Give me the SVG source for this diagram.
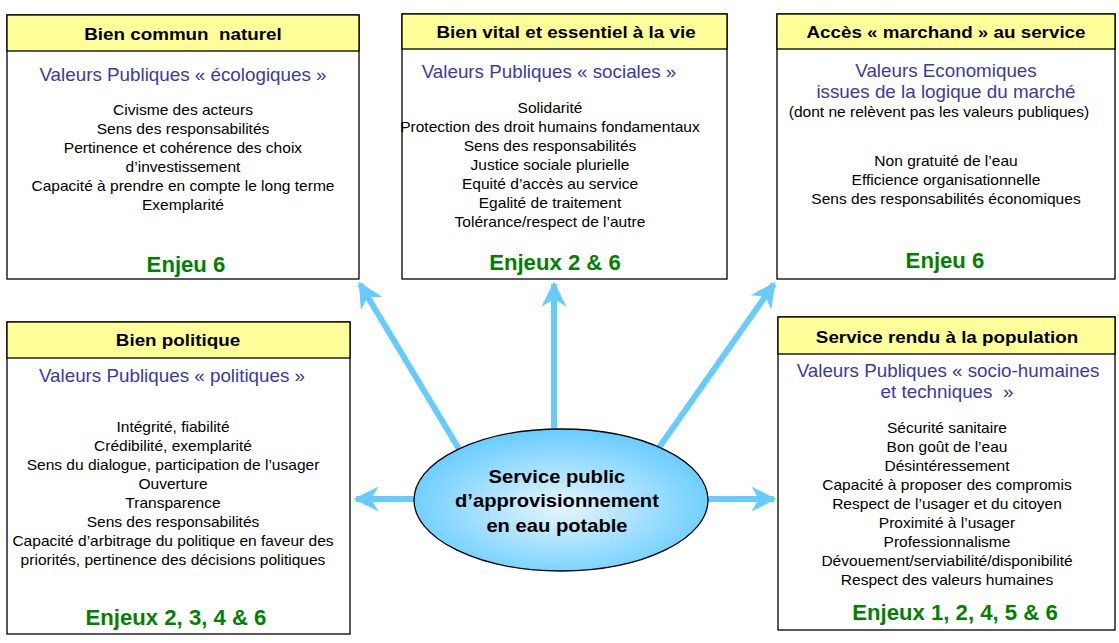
<svg xmlns="http://www.w3.org/2000/svg" width="1119" height="643" viewBox="0 0 1119 643">
<defs>
<radialGradient id="eg" cx="50%" cy="55%" r="55%">
<stop offset="0" stop-color="#E6F6FF"/>
<stop offset="1" stop-color="#66CCFF"/>
</radialGradient>
<marker id="ah" viewBox="0 0 10 10" refX="9" refY="5" markerWidth="4.2" markerHeight="4.2" orient="auto" markerUnits="strokeWidth">
<path d="M0,0 L10,5 L0,10 L3,5 Z" fill="#66CCFF"/>
</marker>
<style>
.box{fill:#fff;stroke:#000;stroke-width:1.3}
.hdr{fill:#FFFF99;stroke:#000;stroke-width:1.3}
text{transform-box:fill-box;transform-origin:center}
.ht{font-family:"Liberation Sans",Arial,sans-serif;font-weight:bold;font-size:16.5px;fill:#000;text-anchor:middle;transform:scaleX(1.14);white-space:pre}
.sub{font-family:"Liberation Sans",Arial,sans-serif;font-size:17.5px;fill:#3a3a9f;text-anchor:middle;transform:scaleX(1.075);white-space:pre}
.bd{font-family:"Liberation Sans",Arial,sans-serif;font-size:14px;fill:#000;text-anchor:middle;transform:scaleX(1.11)}
.en{font-family:"Liberation Sans",Arial,sans-serif;font-weight:bold;font-size:21.5px;fill:#008000;text-anchor:middle;transform:scaleX(1.03)}
.ar{stroke:#66CCFF;stroke-width:6;fill:none;marker-end:url(#ah)}
.et{font-family:"Liberation Sans",Arial,sans-serif;font-weight:bold;font-size:18px;fill:#000;text-anchor:middle;transform:scaleX(1.12)}
</style>
</defs>
<rect width="1119" height="643" fill="#fff"/>

<g id="connectors">
<line class="ar" x1="459" y1="449" x2="360" y2="284"/>
<line class="ar" x1="554" y1="431" x2="554" y2="284"/>
<line class="ar" x1="658" y1="449" x2="774" y2="284"/>
<line class="ar" x1="416" y1="499" x2="356" y2="499"/>
<line class="ar" x1="706" y1="499" x2="774" y2="499"/>
</g>

<g id="node-bien-commun">
<rect class="box" x="7" y="15" width="352" height="264"/>
<rect class="hdr" x="7" y="15" width="352" height="36"/>
<text class="ht" x="183" y="40">Bien commun  naturel</text>
<text class="sub" x="183" y="81">Valeurs Publiques « écologiques »</text>
<text class="bd" x="183" y="115">Civisme des acteurs</text>
<text class="bd" x="183" y="134">Sens des responsabilités</text>
<text class="bd" x="183" y="153">Pertinence et cohérence des choix</text>
<text class="bd" x="183" y="172">d’investissement</text>
<text class="bd" x="183" y="191">Capacité à prendre en compte le long terme</text>
<text class="bd" x="183" y="210">Exemplarité</text>
<text class="en" x="186" y="272">Enjeu 6</text>
</g>

<g id="node-bien-vital">
<rect class="box" x="402" y="14" width="325" height="265"/>
<rect class="hdr" x="402" y="14" width="325" height="35"/>
<text class="ht" x="566" y="38">Bien vital et essentiel à la vie</text>
<text class="sub" x="549" y="78">Valeurs Publiques « sociales »</text>
<text class="bd" x="550" y="113">Solidarité</text>
<text class="bd" x="550" y="132">Protection des droit humains fondamentaux</text>
<text class="bd" x="550" y="151">Sens des responsabilités</text>
<text class="bd" x="550" y="170">Justice sociale plurielle</text>
<text class="bd" x="550" y="189">Equité d’accès au service</text>
<text class="bd" x="550" y="208">Egalité de traitement</text>
<text class="bd" x="550" y="227">Tolérance/respect de l’autre</text>
<text class="en" x="555" y="270">Enjeux 2 &amp; 6</text>
</g>

<g id="node-acces-marchand">
<rect class="box" x="777" y="14" width="338" height="265"/>
<rect class="hdr" x="777" y="14" width="338" height="35"/>
<text class="ht" x="946" y="38">Accès « marchand » au service</text>
<text class="sub" x="946" y="77">Valeurs Economiques</text>
<text class="sub" x="946" y="98">issues de la logique du marché</text>
<text class="bd" x="939" y="117">(dont ne relèvent pas les valeurs publiques)</text>
<text class="bd" x="946" y="166">Non gratuité de l’eau</text>
<text class="bd" x="946" y="185">Efficience organisationnelle</text>
<text class="bd" x="946" y="204">Sens des responsabilités économiques</text>
<text class="en" x="945" y="268">Enjeu 6</text>
</g>

<g id="node-bien-politique">
<rect class="box" x="7" y="322" width="343" height="312"/>
<rect class="hdr" x="7" y="322" width="343" height="36"/>
<text class="ht" x="178" y="346">Bien politique</text>
<text class="sub" x="172" y="382">Valeurs Publiques « politiques »</text>
<text class="bd" x="173" y="432">Intégrité, fiabilité</text>
<text class="bd" x="173" y="451">Crédibilité, exemplarité</text>
<text class="bd" x="173" y="470">Sens du dialogue, participation de l’usager</text>
<text class="bd" x="173" y="489">Ouverture</text>
<text class="bd" x="173" y="508">Transparence</text>
<text class="bd" x="173" y="527">Sens des responsabilités</text>
<text class="bd" x="173" y="546">Capacité d’arbitrage du politique en faveur des</text>
<text class="bd" x="173" y="565">priorités, pertinence des décisions politiques</text>
<text class="en" x="176" y="625">Enjeux 2, 3, 4 &amp; 6</text>
</g>

<g id="node-service-rendu">
<rect class="box" x="778" y="317" width="337" height="313"/>
<rect class="hdr" x="778" y="317" width="337" height="37"/>
<text class="ht" x="947" y="343">Service rendu à la population</text>
<text class="sub" x="948" y="377">Valeurs Publiques « socio-humaines</text>
<text class="sub" x="947" y="398">et techniques  »</text>
<text class="bd" x="947" y="433">Sécurité sanitaire</text>
<text class="bd" x="947" y="452">Bon goût de l’eau</text>
<text class="bd" x="947" y="471">Désintéressement</text>
<text class="bd" x="947" y="490">Capacité à proposer des compromis</text>
<text class="bd" x="947" y="509">Respect de l’usager et du citoyen</text>
<text class="bd" x="947" y="528">Proximité à l’usager</text>
<text class="bd" x="947" y="547">Professionnalisme</text>
<text class="bd" x="947" y="566">Dévouement/serviabilité/disponibilité</text>
<text class="bd" x="947" y="585">Respect des valeurs humaines</text>
<text class="en" x="955" y="620">Enjeux 1, 2, 4, 5 &amp; 6</text>
</g>

<g id="node-center">
<ellipse cx="561" cy="500" rx="147" ry="71" fill="url(#eg)" stroke="#000" stroke-width="1.3"/>
<text class="et" x="557" y="483">Service public</text>
<text class="et" x="557" y="507">d’approvisionnement</text>
<text class="et" x="557" y="532">en eau potable</text>
</g>
</svg>
